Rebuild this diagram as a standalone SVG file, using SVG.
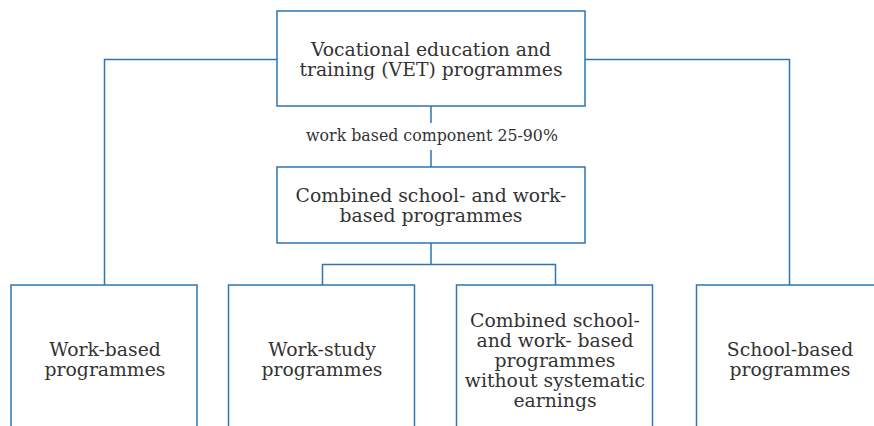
<svg xmlns="http://www.w3.org/2000/svg" width="874" height="426" viewBox="0 0 874 426">
<style>
.box{fill:#fff;stroke:#2e75b6;stroke-width:1.5}
.ln{fill:none;stroke:#2e75b6;stroke-width:1.5}
text{font-family:"DejaVu Serif","Liberation Serif",serif;fill:#333;text-anchor:middle;font-size:18.8px}
.lbl{font-size:15.8px}
</style>
<rect width="874" height="426" fill="#fff"/>
<g id="connectors">
<path class="ln" d="M277 59.5H104.5V285"/>
<path class="ln" d="M585 59.5H789.5V285"/>
<path class="ln" d="M431 106V123M431 150V167"/>
<path class="ln" d="M431 243V264.5M322.5 285V264.5H555.5V285"/>
</g>
<g id="label"><text class="lbl" x="432" y="141">work based component 25-90%</text></g>
<g id="vet">
<rect class="box" x="277" y="11" width="308" height="95"/>
<text x="431" y="56">Vocational education and</text>
<text x="431" y="76">training (VET) programmes</text>
</g>
<g id="combined">
<rect class="box" x="277" y="167" width="308" height="76"/>
<text x="431" y="202">Combined school- and work-</text>
<text x="431" y="222">based programmes</text>
</g>
<g id="work-based">
<rect class="box" x="11" y="285" width="186" height="150"/>
<text x="105" y="356">Work-based</text>
<text x="105" y="376">programmes</text>
</g>
<g id="work-study">
<rect class="box" x="228.5" y="285" width="186" height="150"/>
<text x="322" y="356">Work-study</text>
<text x="322" y="376">programmes</text>
</g>
<g id="combined-no-earnings">
<rect class="box" x="456.5" y="285" width="196" height="150"/>
<text x="555" y="327">Combined school-</text>
<text x="555" y="347">and work- based</text>
<text x="555" y="367">programmes</text>
<text x="555" y="387">without systematic</text>
<text x="555" y="407">earnings</text>
</g>
<g id="school-based">
<rect class="box" x="696.5" y="285" width="190" height="150"/>
<text x="790" y="356">School-based</text>
<text x="790" y="376">programmes</text>
</g>
</svg>
